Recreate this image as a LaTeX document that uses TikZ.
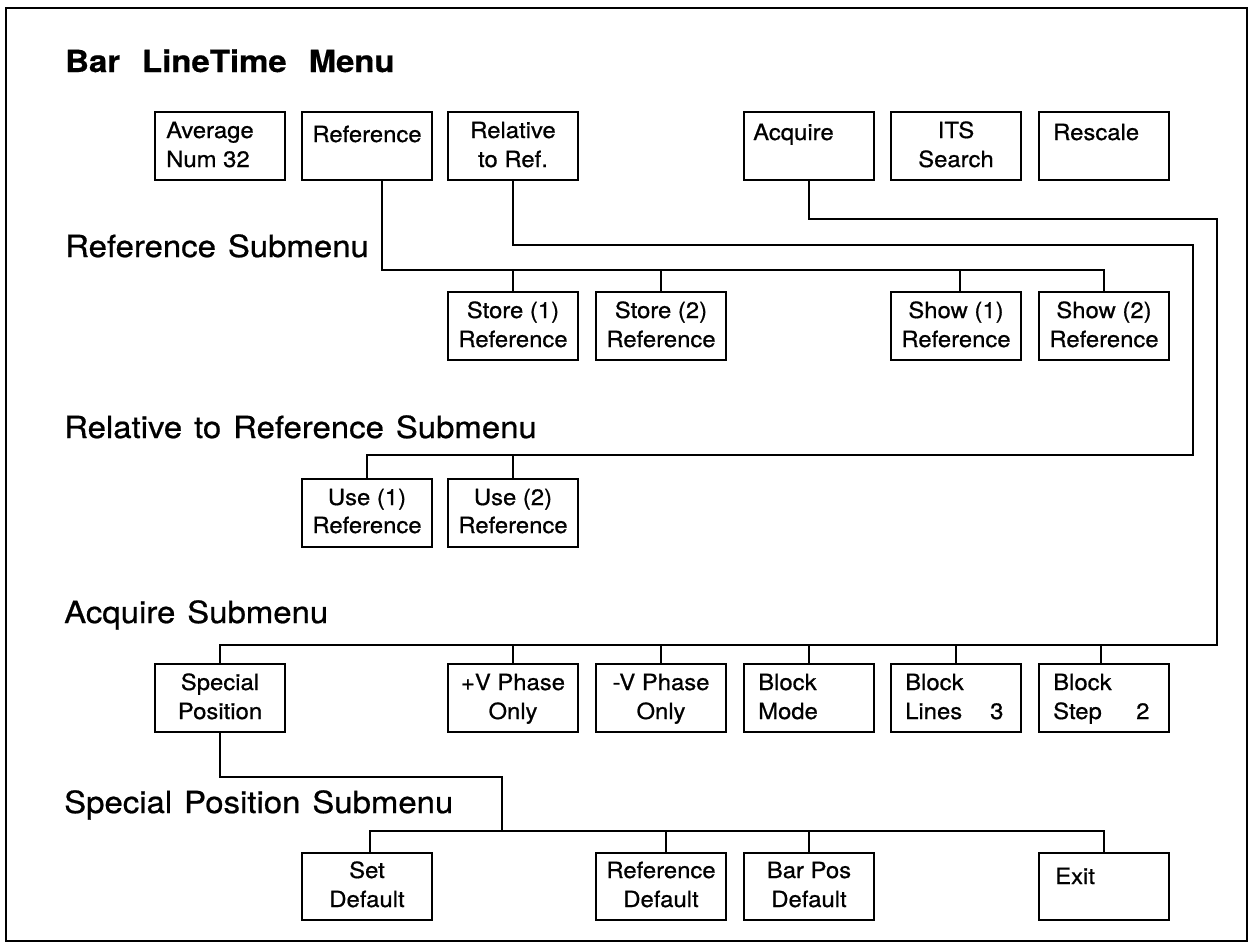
\documentclass[tikz,border=0pt]{standalone}
\usepackage{fontspec}
\newfontfamily\boxfont[FakeStretch=1.07,FakeBold=0.7]{TeX Gyre Heros}
\newfontfamily\headfont[FakeStretch=1.08,FakeBold=0.7,WordSpace=1.3]{TeX Gyre Heros}
\newfontfamily\titlefont[FakeStretch=1.08,FakeBold=0.5,WordSpace=2.4]{TeX Gyre Heros}
\begin{document}
\begin{tikzpicture}[x=1pt,y=-1pt,
  frame/.style={draw, line width=2.2pt},
  menubox/.style={draw, line width=2pt, inner sep=0pt, minimum width=130pt,
    minimum height=68pt, anchor=north west},
  lowbox/.style={menubox, minimum height=67pt},
  txt/.style={inner sep=0pt, font=\boxfont\fontsize{22.3}{26}\selectfont},
  ctxt/.style={txt, anchor=base},
  ltxt/.style={txt, anchor=base west},
  heading/.style={inner sep=0pt, anchor=base west, font=\headfont\fontsize{30.5}{34}\selectfont},
  wire/.style={line width=2pt, line cap=rect, line join=miter}]

\useasboundingbox (0,0) rectangle (1252,946);
\draw[frame] (6,8) rectangle (1247,941);

% headings
\node[heading, font=\titlefont\fontsize{30.5}{34}\bfseries] (title) at (65,72) {Bar LineTime Menu};
\node[heading] (h-ref) at (65,257) {Reference Submenu};
\node[heading] (h-rel) at (64,438) {Relative to Reference Submenu};
\node[heading] (h-acq) at (64,623) {Acquire Submenu};
\node[heading] (h-sp)  at (64,813) {Special Position Submenu};

% bus levels and risers
\coordinate (acqbusA) at (0,219);
\coordinate (relbusA) at (0,245);
\coordinate (refbus)  at (0,270);
\coordinate (relbusB) at (0,455);
\coordinate (acqbusB) at (0,645);
\coordinate (spbusA)  at (0,777);
\coordinate (spbusB)  at (0,831);
\coordinate (relriser) at (1193,0);
\coordinate (acqriser) at (1217,0);
\coordinate (spriser)  at (502,0);

% main menu
\node[menubox] (avg)  at (154,111) {};
\node[menubox] (ref)  at (301,111) {};
\node[menubox] (rel)  at (447,111) {};
\node[menubox] (acq)  at (743,111) {};
\node[menubox] (its)  at (890,111) {};
\node[menubox] (resc) at (1038,111) {};
\node[ltxt] (avg-a) at ([shift={(12,27)}]avg.north west) {Average};
\node[ltxt] (avg-b) at ([shift={(12,56)}]avg.north west) {Num 32};
\node[ctxt] (ref-a) at ([shift={(0,31)}]ref.north) {Reference};
\node[ctxt] (rel-a) at ([shift={(0,27)}]rel.north) {Relative};
\node[ctxt] (rel-b) at ([shift={(0,56)}]rel.north) {to Ref.};
\node[ltxt] (acq-a) at ([shift={(10,29)}]acq.north west) {Acquire};
\node[ctxt] (its-a) at ([shift={(0,27)}]its.north) {ITS};
\node[ctxt] (its-b) at ([shift={(0,56)}]its.north) {Search};
\node[ltxt] (resc-a) at ([shift={(15,29)}]resc.north west) {Rescale};

% reference submenu
\node[menubox] (st1) at (447,291) {};
\node[menubox] (st2) at (595,291) {};
\node[menubox] (sh1) at (890,291) {};
\node[menubox] (sh2) at (1038,291) {};
\node[ctxt] (st1-a) at ([shift={(0,27)}]st1.north) {Store (1)};
\node[ctxt] (st1-b) at ([shift={(0,56)}]st1.north) {Reference};
\node[ctxt] (st2-a) at ([shift={(0,27)}]st2.north) {Store (2)};
\node[ctxt] (st2-b) at ([shift={(0,56)}]st2.north) {Reference};
\node[ctxt] (sh1-a) at ([shift={(0,27)}]sh1.north) {Show (1)};
\node[ctxt] (sh1-b) at ([shift={(0,56)}]sh1.north) {Reference};
\node[ctxt] (sh2-a) at ([shift={(0,27)}]sh2.north) {Show (2)};
\node[ctxt] (sh2-b) at ([shift={(0,56)}]sh2.north) {Reference};

% relative to reference submenu
\node[menubox] (use1) at (301,478) {};
\node[menubox] (use2) at (447,478) {};
\node[ctxt] (use1-a) at ([shift={(0,27)}]use1.north) {Use (1)};
\node[ctxt] (use1-b) at ([shift={(0,55)}]use1.north) {Reference};
\node[ctxt] (use2-a) at ([shift={(0,27)}]use2.north) {Use (2)};
\node[ctxt] (use2-b) at ([shift={(0,55)}]use2.north) {Reference};

% acquire submenu
\node[menubox] (sp) at (154,663) {};
\node[menubox] (vp) at (447,663) {};
\node[menubox] (vm) at (595,663) {};
\node[menubox] (bm) at (743,663) {};
\node[menubox] (bl) at (890,663) {};
\node[menubox] (bs) at (1038,663) {};
\node[ctxt] (sp-a) at ([shift={(0,27)}]sp.north) {Special};
\node[ctxt] (sp-b) at ([shift={(0,56)}]sp.north) {Position};
\node[ctxt] (vp-a) at ([shift={(0,27)}]vp.north) {+V Phase};
\node[ctxt] (vp-b) at ([shift={(0,56)}]vp.north) {Only};
\node[ctxt] (vm-a) at ([shift={(0,27)}]vm.north) {-V Phase};
\node[ctxt] (vm-b) at ([shift={(0,56)}]vm.north) {Only};
\node[ltxt] (bm-a) at ([shift={(15,27)}]bm.north west) {Block};
\node[ltxt] (bm-b) at ([shift={(15,56)}]bm.north west) {Mode};
\node[ltxt] (bl-a) at ([shift={(15,27)}]bl.north west) {Block};
\node[ltxt] (bl-b) at ([shift={(15,56)}]bl.north west) {\makebox[85pt][l]{Lines}3};
\node[ltxt] (bs-a) at ([shift={(15,27)}]bs.north west) {Block};
\node[ltxt] (bs-b) at ([shift={(15,56)}]bs.north west) {\makebox[83pt][l]{Step}2};

% special position submenu
\node[lowbox] (setd) at (301,852) {};
\node[lowbox] (rdef) at (595,852) {};
\node[lowbox] (bpos) at (743,852) {};
\node[lowbox] (exit) at (1038,852) {};
\node[ctxt] (setd-a) at ([shift={(0,26)}]setd.north) {Set};
\node[ctxt] (setd-b) at ([shift={(0,55)}]setd.north) {Default};
\node[ctxt] (rdef-a) at ([shift={(0,26)}]rdef.north) {Reference};
\node[ctxt] (rdef-b) at ([shift={(0,55)}]rdef.north) {Default};
\node[ctxt] (bpos-a) at ([shift={(0,26)}]bpos.north) {Bar Pos};
\node[ctxt] (bpos-b) at ([shift={(0,55)}]bpos.north) {Default};
\node[ltxt] (exit-a) at ([shift={(17,32)}]exit.north west) {Exit};

% connectors: Reference
\draw[wire] ([xshift=15pt]ref.south) |- (sh2.north |- refbus) -- (sh2.north);
\draw[wire] (st1.north) -- (st1.north |- refbus);
\draw[wire] (st2.north) -- (st2.north |- refbus);
\draw[wire] ([xshift=4pt]sh1.north) -- ([xshift=4pt]sh1.north |- refbus);

% connectors: Relative to Ref.
\draw[wire] (rel.south) |- (relriser |- relbusA) |- (use1.north |- relbusB) -- (use1.north);
\draw[wire] (use2.north) -- (use2.north |- relbusB);

% connectors: Acquire
\draw[wire] (acq.south) |- (acqriser |- acqbusA) |- (sp.north |- acqbusB) -- (sp.north);
\draw[wire] (vp.north) -- (vp.north |- acqbusB);
\draw[wire] (vm.north) -- (vm.north |- acqbusB);
\draw[wire] (bm.north) -- (bm.north |- acqbusB);
\draw[wire] (bl.north) -- (bl.north |- acqbusB);
\draw[wire] ([xshift=-3pt]bs.north) -- ([xshift=-3pt]bs.north |- acqbusB);

% connectors: Special Position
\draw[wire] (sp.south) |- (spriser |- spbusA) -- (spriser |- spbusB);
\draw[wire] ([xshift=3pt]setd.north) |- (exit.north |- spbusB) -- (exit.north);
\draw[wire] ([xshift=5pt]rdef.north) -- ([xshift=5pt]rdef.north |- spbusB);
\draw[wire] (bpos.north) -- (bpos.north |- spbusB);
\end{tikzpicture}
\end{document}
